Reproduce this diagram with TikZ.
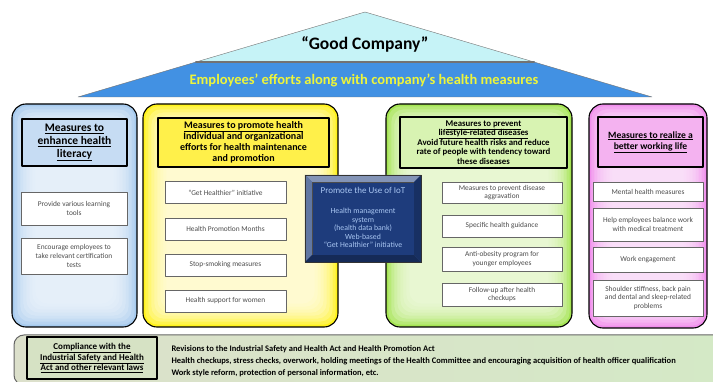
\documentclass[tikz,border=0pt]{standalone}
\usepackage{fontspec}
\setmainfont{Carlito}
\usepackage{xcolor}
\usetikzlibrary{calc,shadows}
\definecolor{roofcyan}{HTML}{C6F3F7}
\definecolor{roofblue}{HTML}{4291E3}
\definecolor{roofyellow}{HTML}{EEF53A}
\definecolor{navy}{HTML}{1E3C7C}
\definecolor{iottext}{HTML}{A9C6F2}
\definecolor{litedge}{HTML}{A6CAEE}
\definecolor{litpale}{HTML}{EEF5FC}
\definecolor{littitle}{HTML}{C6DCF3}
\definecolor{proedge}{HTML}{FFF21A}
\definecolor{propale}{HTML}{FFFDE6}
\definecolor{protitle}{HTML}{FFF04A}
\definecolor{lifeedge}{HTML}{A4E452}
\definecolor{lifepale}{HTML}{F1FBE2}
\definecolor{lifetitle}{HTML}{D8F3B2}
\definecolor{workedge}{HTML}{F08EEC}
\definecolor{workpale}{HTML}{FCE9FB}
\definecolor{worktitle}{HTML}{F4B2F0}
\definecolor{lawleft}{HTML}{DCE0CB}
\definecolor{lawright}{HTML}{D4E9C6}
\definecolor{lawtitle}{HTML}{D6E2C4}
\tikzset{
  panel/.style={draw=black, line width=1.1pt, rounded corners=14pt, inner sep=0pt},
  titlebox/.style={draw=black, line width=1.3pt, inner sep=1pt, align=center,
    font=\bfseries\fontsize{10}{11}\selectfont},
  itembox/.style={draw=black!60, line width=0.7pt, fill=white, align=center,
    inner sep=1pt, text=black!70, font=\fontsize{7.4}{8.6}\selectfont,
    drop shadow={shadow xshift=0.8pt, shadow yshift=-0.8pt, opacity=0.35}},
  every picture/.style={line cap=round, line join=round}
}

\begin{document}
\begin{tikzpicture}[x=1pt, y=-1pt]
  \useasboundingbox (0,0) rectangle (713,382);
  \fill[white] (0,0) rectangle (713,382);
  \clip (0,0) rectangle (713,382);

  % roof
  \draw[black!55, fill=roofblue] (78,97) -- (196,62) -- (534,62) -- (652,97) -- cycle;
  \draw[black!55, fill=roofcyan] (365,12) -- (196,62) -- (534,62) -- cycle;
  \draw[black!55, line width=2pt] (196,62) -- (534,62);
  \node[font=\bfseries\fontsize{17.5}{19}\selectfont] (gc) at (365,44) {“Good Company”};
  \node[font=\bfseries\fontsize{14.5}{16}\selectfont, text=roofyellow] (efforts) at (364,80)
    {Employees’ efforts along with company’s health measures};

  % panels
  \node[panel, fill=litedge, minimum width=125pt, minimum height=223pt] (lit) at (74.5,215.5) {};
  \node[panel, fill=proedge, minimum width=195pt, minimum height=223pt] (pro) at (240.5,215.5) {};
  \node[panel, fill=lifeedge, minimum width=186pt, minimum height=223pt] (life) at (479,215.5) {};
  \node[panel, fill=workedge, minimum width=118pt, minimum height=224pt] (work) at (648,216) {};
  \foreach \p/\c in {lit/litpale, pro/propale, life/lifepale, work/workpale}
    \foreach \i in {3,6,...,24}
      \fill[\c, opacity=0.25, rounded corners=12pt]
        ($(\p.north west)+(\i,\i)$) rectangle ($(\p.south east)+(-\i,-\i)$);

  % health literacy
  \node[titlebox, fill=littitle, minimum width=105pt, minimum height=47pt,
    font=\bfseries\fontsize{11.5}{13}\selectfont] (littitle) at (74.5,142.5)
    {\underline{Measures to}\\\underline{enhance health}\\\underline{literacy}};
  \node[itembox, minimum width=106pt, minimum height=33pt] (lit1) at (74,208.5)
    {Provide various learning\\tools};
  \node[itembox, minimum width=106pt, minimum height=36pt] (lit2) at (74,256)
    {Encourage employees to\\take relevant certification\\tests};

  % promote health
  \node[titlebox, fill=protitle, minimum width=171pt, minimum height=49pt] (protitle) at (243.5,142.5)
    {\underline{Measures to promote health}\\Individual and organizational\\efforts for health maintenance\\and promotion};
  \node[itembox, minimum width=121pt, minimum height=22pt] (pro1) at (225.5,192.5) {“Get Healthier” initiative};
  \node[itembox, minimum width=121pt, minimum height=22pt] (pro2) at (225.5,229) {Health Promotion Months};
  \node[itembox, minimum width=121pt, minimum height=22pt] (pro3) at (225.5,265) {Stop-smoking measures};
  \node[itembox, minimum width=121pt, minimum height=22pt] (pro4) at (225.5,301) {Health support for women};

  % lifestyle-related diseases
  \node[titlebox, fill=lifetitle, minimum width=167pt, minimum height=51pt,
    font=\bfseries\fontsize{8.8}{9.6}\selectfont] (lifetitle) at (483.5,142.5)
    {\underline{Measures to prevent}\\\underline{lifestyle-related diseases}\\Avoid future health risks and reduce\\rate of people with tendency toward\\these diseases};
  \node[itembox, minimum width=120pt, minimum height=21pt] (life1) at (502,192.5) {Measures to prevent disease\\aggravation};
  \node[itembox, minimum width=120pt, minimum height=22pt] (life2) at (502,226) {Specific health guidance};
  \node[itembox, minimum width=120pt, minimum height=24pt] (life3) at (502,259) {Anti-obesity program for\\younger employees};
  \node[itembox, minimum width=120pt, minimum height=23pt] (life4) at (502,294.5) {Follow-up after health\\checkups};

  % IoT
  \node[draw=black!80, fill=navy!85!white, minimum width=116pt, minimum height=87pt, inner sep=0pt] (iot) at (363,218.5) {};
  \node[draw=black!70, fill=navy, minimum width=102pt, minimum height=73pt, inner sep=0pt] (iotin) at (363,218.5) {};
  \fill[navy!55!white] (iot.north west) -- (iot.north east) -- (iotin.north east) -- (iotin.north west) -- cycle;
  \fill[navy!70!white] (iot.north west) -- (iotin.north west) -- (iotin.south west) -- (iot.south west) -- cycle;
  \fill[navy!70!black] (iot.south west) -- (iotin.south west) -- (iotin.south east) -- (iot.south east) -- cycle;
  \fill[navy!80!black] (iot.north east) -- (iotin.north east) -- (iotin.south east) -- (iot.south east) -- cycle;
  \draw[black!80] (iot.north west) rectangle (iot.south east);
  \node[text=iottext, font=\fontsize{9}{10}\selectfont] (iottitle) at (363,190) {Promote the Use of IoT};
  \node[text=iottext, align=center, font=\fontsize{7.8}{8.6}\selectfont] (iotlist) at (363,228)
    {Health management\\system\\(health data bank)\\Web-based\\“Get Healthier” initiative};

  % working life
  \node[titlebox, fill=worktitle, minimum width=105pt, minimum height=50pt,
    font=\bfseries\fontsize{9.6}{11}\selectfont] (worktitle) at (650.5,142)
    {\underline{Measures to realize a}\\\underline{better working life}};
  \node[itembox, minimum width=110pt, minimum height=19pt] (work1) at (648,191.5) {Mental health measures};
  \node[itembox, minimum width=110pt, minimum height=33pt] (work2) at (648,224.5) {Help employees balance work\\with medical treatment};
  \node[itembox, minimum width=110pt, minimum height=25pt] (work3) at (648,259.5) {Work engagement};
  \node[itembox, minimum width=110pt, minimum height=36pt] (work4) at (648,298) {Shoulder stiffness, back pain\\and dental and sleep-related\\problems};

  % compliance
  \node[draw=black!60, line width=1pt, rounded corners=10pt, left color=lawleft, right color=lawright,
    minimum width=720pt, minimum height=50pt, inner sep=0pt] (law) at (374,360) {};
  \node[titlebox, fill=lawtitle, minimum width=130pt, minimum height=42pt,
    font=\bfseries\fontsize{9}{10.4}\selectfont] (lawtitle) at (92,358)
    {\underline{Compliance with the}\\\underline{Industrial Safety and Health}\\\underline{Act and other relevant laws}};
  \node[anchor=west, align=left, font=\bfseries\fontsize{8.5}{12}\selectfont] (lawtext) at (168,361)
    {Revisions to the Industrial Safety and Health Act and Health Promotion Act\\
     Health checkups, stress checks, overwork, holding meetings of the Health Committee and encouraging acquisition of health officer qualification\\
     Work style reform, protection of personal information, etc.};
\end{tikzpicture}
\end{document}
